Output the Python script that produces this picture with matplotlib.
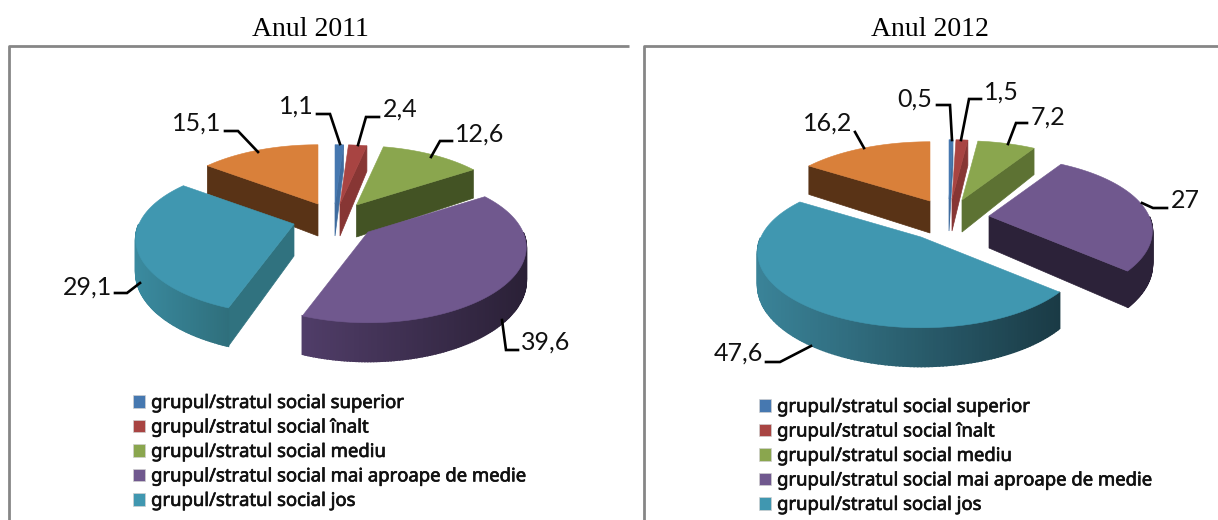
import numpy as np
import matplotlib
matplotlib.use('Agg')
import matplotlib.pyplot as plt
import matplotlib.patheffects as pe
from matplotlib.colors import to_rgb
from matplotlib.patches import Patch, Polygon

# Dane z wykresu
groups = ['grupul/stratul social superior', 'grupul/stratul social înalt',
          'grupul/stratul social mediu', 'grupul/stratul social mai aproape de medie',
          'grupul/stratul social jos']
years = ['Anul 2011', 'Anul 2012']
values_2011 = [1.1, 2.4, 12.6, 39.6, 29.1, 15.1]
values_2012 = [0.5, 1.5, 7.2, 27, 47.6, 16.2]
labels_2011 = ['1,1', '2,4', '12,6', '39,6', '29,1', '15,1']
labels_2012 = ['0,5', '1,5', '7,2', '27', '47,6', '16,2']

# Wyglad: kolory
top_colors = ['#4678b0', '#a84442', '#8aa64e', '#70588e', '#4097b0', '#d9803a']
cut_colors_2011 = ['#3f6c9f', '#873634', '#435324', '#2c2239', '#30727f', '#593316']
cut_colors_2012 = ['#3f6c9f', '#873634', '#5d7233', '#2c2239', '#30727f', '#593316']
wall_2011 = [('#3f6c9f', '#3f6c9f'), ('#873634', '#873634'), ('#435324', '#435324'),
             ('#503d68', '#2a2036'), ('#3a8a9f', '#2f6f7c'), ('#593316', '#593316')]
wall_2012 = [('#3f6c9f', '#3f6c9f'), ('#873634', '#873634'), ('#5d7233', '#5d7233'),
             ('#2c2239', '#2c2239'), ('#3a8398', '#1a3a45'), ('#593316', '#593316')]

# Wyglad: polozenie w pikselach obrazka
apex_2011 = [(335, 204), (340, 204), (356.5, 205), (368, 232), (294, 224), (318, 204)]
apex_2012 = [(949, 199), (952, 199), (962, 200), (989, 216), (921, 237), (930, 201)]
text_2011 = [(296, 106), (400, 109), (480, 134), (546, 342), (88, 287), (197, 123)]
text_2012 = [(915, 99), (1001, 92), (1048, 117), (1185, 200), (738, 353), (828, 123)]
leaders_2011 = [[(317, 114), (330, 114), (340, 144)], [(379, 117), (366, 117), (358, 145)],
                [(452, 141), (440, 141), (431, 157)], [(518, 350), (506, 350), (502, 320)],
                [(115, 293), (127, 293), (140, 283)], [(225, 131), (238, 131), (258, 152)]]
leaders_2012 = [[(937, 105), (950, 105), (952, 140)], [(981, 99), (969, 99), (961, 140)],
                [(1027, 123), (1016, 123), (1008, 144)], [(1167, 208), (1153, 208), (1142, 203)],
                [(766, 362), (780, 362), (811, 346)], [(855, 132), (864, 148)]]

RY, PERSP, THICK = 75, 0.21, 32


def rim(apex, theta, rx):
    # punkt na krawedzi plastra, z lekka perspektywa
    s = 1 - PERSP * np.cos(theta)
    return apex[0] + rx * np.sin(theta) * s, apex[1] - RY * np.cos(theta) * s, THICK * s


def draw_slice(ax, apex, t0, t1, rx, top, cut, wall):
    th = np.linspace(t0, t1, 160)
    x, y, d = rim(apex, th, rx)

    # sciany ciecia
    if np.sin(t0) < -1e-6:
        ax.add_patch(Polygon([apex, (x[0], y[0]), (x[0], y[0] + d[0]), (apex[0], apex[1] + THICK)],
                             fc=cut, ec=cut, lw=0.5))
    if np.sin(t1) > 1e-6:
        ax.add_patch(Polygon([apex, (x[-1], y[-1]), (x[-1], y[-1] + d[-1]), (apex[0], apex[1] + THICK)],
                             fc=cut, ec=cut, lw=0.5))

    # sciana zewnetrzna z gradientem
    front = np.where(np.cos(th) < 0)[0]
    if len(front) > 1:
        c0, c1 = np.array(to_rgb(wall[0])), np.array(to_rgb(wall[1]))
        xmin, xmax = x[front].min(), x[front].max()
        for i, j in zip(front[:-1], front[1:]):
            u = ((x[i] + x[j]) / 2 - xmin) / max(xmax - xmin, 1)
            col = tuple(c0 + (c1 - c0) * u)
            ax.add_patch(Polygon([(x[i], y[i]), (x[j], y[j]), (x[j], y[j] + d[j]), (x[i], y[i] + d[i])],
                                 fc=col, ec=col, lw=1.2))

    ax.add_patch(Polygon([apex] + list(zip(x, y)), fc=top, ec=top, lw=0.4))


def draw_pie(ax, values, apexes, rx, cuts, walls, labels, text_pos, leaders):
    edges = np.cumsum([0] + list(values)) / np.sum(values) * 2 * np.pi
    for i in [5, 0, 1, 2, 4, 3]:
        draw_slice(ax, apexes[i], edges[i], edges[i + 1], rx, top_colors[i], cuts[i], walls[i])
    for lab, pos, line in zip(labels, text_pos, leaders):
        xs, ys = zip(*line)
        ax.plot(xs, ys, color='black', lw=1.9, solid_joinstyle='miter')
        ax.text(pos[0], pos[1], lab, fontsize=18, family='Lato', ha='center', va='center', color='#111111')


fig = plt.figure(figsize=(12.18, 5.2), dpi=100)
ax = fig.add_axes([0, 0, 1, 1])
ax.set_xlim(0, 1218)
ax.set_ylim(520, 0)
ax.axis('off')

# Ramki paneli
ax.plot([9, 9, 629], [525, 46, 46], color='#868686', lw=2, solid_capstyle='butt')
ax.plot([644, 644, 1218], [525, 46, 46], color='#868686', lw=2, solid_capstyle='butt')

ax.text(310, 30, years[0], fontsize=20, family='Liberation Serif', ha='center', va='center')
ax.text(930, 30, years[1], fontsize=20, family='Liberation Serif', ha='center', va='center')

draw_pie(ax, values_2011, apex_2011, 155, cut_colors_2011, wall_2011, labels_2011, text_2011, leaders_2011)
draw_pie(ax, values_2012, apex_2012, 160, cut_colors_2012, wall_2012, labels_2012, text_2012, leaders_2012)

# Legendy
handles = [Patch(fc=c, ec='#d0d0d0', lw=0.5) for c in top_colors[:5]]
for anchor in [(133, 394), (759, 398)]:
    leg = ax.legend(handles, groups, loc='upper left', bbox_to_anchor=anchor,
                    bbox_transform=ax.transData, frameon=False, borderpad=0, borderaxespad=0,
                    prop={'family': 'Noto Sans', 'size': 13.3},
                    handlelength=0.65, handleheight=0.65, handletextpad=0.33, labelspacing=0.35)
    # tekst w oryginale jest wyraznie grubszy
    for t in leg.get_texts():
        t.set_color('#111111')
        t.set_path_effects([pe.withStroke(linewidth=0.5, foreground='#111111')])
    ax.add_artist(leg)
    ax.legend_ = None

fig.savefig('out.png', dpi=100)
